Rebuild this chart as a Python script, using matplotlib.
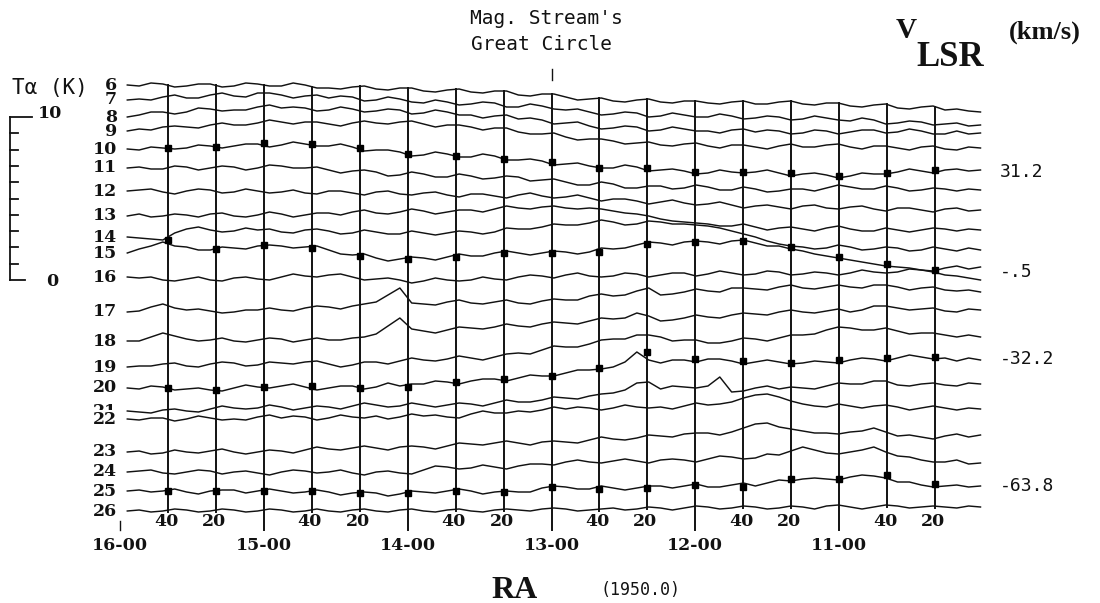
"""HI channel traces across the Magellanic Stream great circle (RA 1950.0).

Each trace is one V_LSR channel (6..26) stacked vertically, plotted against
RA; small squares mark the 31.2, -0.5, -32.2 and -63.8 km/s channels.
"""

import matplotlib

matplotlib.use("Agg")
import matplotlib.pyplot as plt
import numpy as np

W, H = 1100, 603

# traces are sampled evenly in RA, minutes west of 16h00
RA_FIRST_MIN = 3
RA_LAST_MIN = 359

CHANNELS = list(range(6, 27))

# stacked trace levels (chart units, 16.3 units per K, increasing downwards)
CH06 = [85,
        86, 83, 84, 87, 86, 84, 84, 87, 86, 83,
        84, 86, 86, 83, 85, 88, 88, 89, 87, 86,
        89, 90, 88, 88, 91, 92, 90, 89, 92, 93,
        91, 91, 95, 96, 94, 94, 97, 100, 99, 98,
        101, 102, 100, 99, 102, 103, 101, 101, 103, 104,
        102, 101, 104, 104, 102, 101, 104, 105, 103, 103,
        106, 107, 105, 104, 108, 109, 107, 106, 110, 109,
        111, 112]
CH07 = [100,
        99, 100, 97, 95, 98, 98, 95, 93, 96, 97,
        93, 93, 95, 98, 96, 95, 98, 96, 97, 101,
        100, 97, 99, 102, 103, 100, 102, 105, 104, 102,
        103, 107, 107, 104, 106, 109, 110, 109, 112, 115,
        114, 112, 113, 117, 116, 113, 115, 117, 117, 114,
        116, 119, 118, 116, 117, 120, 119, 116, 118, 120,
        121, 118, 120, 124, 123, 121, 122, 125, 124, 123,
        126, 125]
CH08 = [117,
        115, 112, 112, 114, 112, 108, 109, 111, 110, 110,
        107, 105, 108, 107, 108, 111, 110, 107, 109, 112,
        111, 109, 110, 114, 113, 110, 112, 115, 115, 118,
        116, 115, 119, 118, 120, 124, 123, 122, 126, 129,
        128, 126, 127, 131, 130, 127, 129, 131, 131, 133,
        130, 129, 132, 130, 131, 134, 133, 130, 131, 134,
        132, 130, 130, 133, 132, 129, 131, 134, 134, 131,
        134, 133]
CH09 = [131,
        129, 130, 127, 126, 127, 128, 125, 123, 125, 125,
        123, 120, 122, 124, 122, 122, 124, 126, 123, 121,
        123, 124, 122, 121, 124, 127, 125, 125, 127, 130,
        128, 128, 132, 134, 134, 133, 137, 140, 139, 139,
        141, 144, 143, 142, 145, 146, 144, 143, 146, 148,
        145, 145, 147, 149, 146, 144, 147, 147, 145, 144,
        147, 149, 146, 146, 148, 150, 147, 146, 149, 150,
        147, 148]
CH10 = [149,
        150, 147, 148, 149, 148, 145, 146, 148, 146, 144,
        144, 147, 145, 142, 144, 146, 146, 144, 147, 151,
        150, 150, 152, 156, 155, 152, 154, 157, 157, 154,
        156, 160, 160, 159, 161, 165, 164, 163, 166, 168,
        168, 165, 167, 171, 170, 169, 171, 174, 173, 170,
        172, 173, 172, 170, 173, 176, 174, 173, 175, 178,
        176, 173, 174, 174, 172, 169, 171, 173, 170, 169,
        171, 170]
CH11 = [168,
        167, 169, 169, 166, 167, 170, 168, 166, 167, 170,
        168, 165, 166, 168, 168, 167, 170, 173, 171, 170,
        172, 176, 175, 172, 174, 177, 177, 174, 176, 179,
        178, 176, 177, 181, 180, 179, 182, 185, 185, 182,
        184, 188, 188, 186, 186, 189, 188, 185, 187, 190,
        190, 187, 189, 192, 191, 189, 189, 191, 188, 185,
        187, 189, 189, 186, 188, 191, 190, 188, 189, 191,
        189, 190]
CH12 = [191,
        190, 189, 192, 194, 191, 189, 190, 193, 192, 189,
        191, 193, 192, 190, 193, 194, 191, 191, 193, 195,
        192, 191, 194, 195, 193, 192, 195, 197, 194, 194,
        196, 198, 195, 193, 196, 198, 197, 195, 198, 201,
        199, 199, 201, 204, 202, 200, 203, 205, 204, 202,
        205, 208, 206, 205, 207, 209, 206, 205, 208, 209,
        207, 206, 209, 211, 208, 208, 210, 212, 209, 208,
        211, 210]
CH13 = [216,
        214, 217, 216, 214, 215, 217, 214, 213, 216, 217,
        215, 212, 214, 217, 215, 213, 213, 215, 212, 210,
        213, 214, 212, 209, 211, 214, 212, 210, 210, 212,
        209, 206, 208, 209, 207, 206, 208, 209, 208, 209,
        211, 213, 214, 216, 219, 221, 222, 223, 224, 226,
        226, 224, 227, 230, 228, 227, 229, 231, 228, 226,
        229, 231, 231, 228, 230, 232, 230, 228, 229, 231,
        229, 230]
CH14 = [237,
        238, 239, 240, 233, 229, 227, 230, 232, 231, 228,
        230, 229, 232, 233, 230, 229, 231, 234, 233, 230,
        232, 234, 234, 231, 233, 235, 233, 231, 232, 234,
        232, 228, 229, 229, 227, 224, 225, 225, 223, 220,
        222, 225, 224, 221, 222, 224, 224, 225, 226, 228,
        231, 234, 237, 241, 244, 246, 247, 249, 248, 245,
        247, 250, 249, 247, 248, 251, 250, 247, 249, 251,
        248, 250]
CH15 = [253,
        249, 246, 242, 246, 247, 250, 250, 247, 248, 249,
        246, 245, 246, 248, 247, 246, 250, 254, 255, 254,
        258, 261, 259, 257, 258, 260, 257, 254, 256, 256,
        253, 251, 253, 255, 253, 251, 252, 254, 252, 248,
        249, 248, 245, 242, 243, 245, 242, 241, 242, 244,
        241, 240, 243, 246, 246, 249, 251, 254, 256, 258,
        260, 262, 264, 266, 267, 268, 270, 272, 275, 276,
        278, 280]
CH16 = [277,
        278, 277, 280, 281, 279, 277, 280, 281, 278, 277,
        279, 280, 277, 274, 276, 277, 275, 274, 277, 280,
        279, 278, 280, 283, 281, 278, 280, 281, 280, 277,
        279, 280, 277, 275, 276, 278, 275, 273, 276, 277,
        276, 273, 274, 277, 275, 273, 273, 276, 274, 271,
        273, 275, 274, 271, 272, 275, 274, 272, 273, 275,
        273, 270, 272, 273, 272, 269, 270, 271, 268, 266,
        269, 267]
CH17 = [312,
        311, 307, 304, 308, 310, 309, 311, 313, 312, 310,
        310, 308, 310, 311, 308, 306, 307, 309, 306, 304,
        302, 295, 288, 303, 304, 305, 302, 300, 303, 304,
        302, 300, 303, 304, 301, 299, 300, 300, 296, 294,
        296, 295, 291, 288, 295, 294, 292, 289, 291, 292,
        288, 288, 289, 290, 287, 285, 288, 289, 287, 285,
        287, 288, 285, 285, 287, 290, 288, 287, 290, 291,
        290, 292]
CH18 = [341,
        341, 337, 333, 336, 339, 341, 340, 338, 341, 342,
        340, 338, 339, 342, 340, 338, 340, 340, 338, 337,
        334, 326, 318, 329, 331, 333, 330, 327, 328, 329,
        327, 324, 326, 327, 324, 322, 323, 324, 321, 318,
        319, 318, 313, 316, 321, 320, 318, 315, 317, 318,
        315, 313, 314, 315, 312, 310, 312, 313, 311, 309,
        312, 310, 306, 306, 308, 310, 309, 308, 311, 312,
        309, 310]
CH19 = [367,
        366, 366, 364, 363, 366, 367, 364, 362, 363, 366,
        365, 362, 363, 364, 362, 361, 364, 367, 365, 362,
        362, 364, 361, 358, 360, 361, 359, 356, 358, 360,
        357, 354, 353, 354, 350, 346, 347, 347, 344, 340,
        339, 339, 335, 335, 337, 341, 340, 340, 343, 343,
        341, 338, 339, 341, 338, 335, 335, 334, 330, 327,
        328, 330, 330, 328, 331, 334, 333, 333, 335, 337,
        335, 337]
CH20 = [388,
        389, 386, 387, 390, 389, 388, 390, 391, 388, 385,
        387, 388, 386, 384, 387, 390, 388, 386, 386, 389,
        387, 383, 386, 384, 384, 381, 382, 384, 381, 379,
        379, 381, 378, 375, 376, 376, 373, 370, 370, 369,
        367, 362, 352, 360, 363, 360, 360, 362, 359, 359,
        361, 364, 362, 360, 362, 364, 363, 361, 362, 363,
        360, 358, 359, 361, 358, 355, 357, 359, 358, 361,
        358, 360]
CH21 = [411,
        412, 413, 410, 409, 411, 412, 409, 406, 408, 409,
        408, 405, 407, 410, 408, 406, 407, 409, 406, 403,
        405, 407, 406, 403, 405, 407, 405, 403, 404, 406,
        403, 400, 402, 402, 400, 397, 398, 399, 396, 394,
        393, 390, 383, 382, 389, 386, 387, 388, 386, 377,
        392, 391, 388, 386, 389, 387, 388, 389, 386, 383,
        384, 384, 381, 381, 385, 386, 384, 383, 385, 386,
        383, 384]
CH22 = [419,
        420, 418, 418, 421, 419, 416, 418, 420, 419, 420,
        417, 415, 418, 416, 417, 420, 418, 415, 417, 418,
        416, 419, 417, 414, 416, 415, 417, 418, 414, 411,
        413, 413, 411, 412, 410, 407, 409, 407, 408, 410,
        408, 405, 407, 408, 407, 409, 406, 403, 405, 404,
        402, 398, 395, 394, 397, 401, 404, 406, 407, 404,
        406, 408, 406, 405, 407, 410, 408, 406, 408, 410,
        408, 409]
CH23 = [452,
        451, 454, 453, 450, 452, 453, 451, 449, 452, 454,
        452, 450, 451, 453, 450, 447, 449, 450, 448, 446,
        448, 450, 447, 446, 447, 449, 446, 443, 444, 445,
        443, 441, 443, 445, 442, 441, 442, 443, 440, 437,
        439, 440, 438, 435, 436, 437, 434, 433, 433, 435,
        432, 428, 424, 423, 427, 429, 431, 433, 433, 434,
        432, 431, 428, 432, 436, 435, 437, 439, 436, 434,
        437, 435]
CH24 = [472,
        471, 470, 473, 474, 472, 470, 471, 474, 472, 471,
        473, 475, 472, 470, 471, 473, 472, 470, 473, 475,
        472, 471, 473, 474, 470, 466, 467, 469, 468, 465,
        467, 469, 466, 464, 464, 465, 462, 460, 462, 463,
        461, 459, 461, 463, 460, 459, 460, 462, 459, 456,
        457, 459, 458, 454, 455, 451, 447, 450, 453, 454,
        452, 450, 447, 452, 456, 457, 460, 462, 462, 460,
        464, 463]
CH25 = [491,
        490, 492, 491, 489, 492, 494, 491, 490, 490, 493,
        491, 489, 491, 493, 492, 490, 492, 495, 493, 492,
        493, 496, 494, 491, 492, 493, 491, 489, 491, 494,
        492, 491, 492, 492, 488, 486, 487, 489, 489, 486,
        488, 490, 488, 486, 486, 488, 486, 484, 487, 487,
        485, 483, 486, 483, 480, 481, 479, 478, 479, 480,
        477, 475, 476, 478, 482, 482, 485, 487, 486, 485,
        487, 486]
CH26 = [511,
        510, 512, 511, 509, 510, 512, 511, 509, 510, 512,
        511, 509, 510, 512, 511, 509, 511, 512, 510, 509,
        511, 512, 510, 509, 511, 512, 510, 509, 511, 512,
        510, 509, 510, 511, 509, 508, 509, 511, 510, 509,
        508, 510, 509, 507, 508, 510, 508, 506, 507, 509,
        508, 506, 507, 509, 508, 506, 507, 509, 506, 505,
        507, 509, 507, 505, 506, 508, 507, 506, 507, 508,
        506, 507]

TRACES = [CH06, CH07, CH08, CH09, CH10, CH11, CH12, CH13, CH14, CH15, CH16,
          CH17, CH18, CH19, CH20, CH21, CH22, CH23, CH24, CH25, CH26]

# grid lines every 20 minutes of RA; hour lines get the long tick + label
GRID_MIN = [20, 40, 60, 80, 100, 120, 140, 160, 180, 200, 220, 240, 260, 280,
            300, 320, 340]
HOUR_MIN = [0, 60, 120, 180, 240, 300]
HOUR_LABELS = ["16-00", "15-00", "14-00", "13-00", "12-00", "11-00"]

# velocity marker channels, level at each grid line
VEL_LABELS = ["31.2", "-.5", "-32.2", "-63.8"]
MARK_V1 = [148, 147, 143, 144, 148, 154, 156, 159, 162, 168, 168, 172, 172, 173,
           176, 173, 170]
MARK_V2 = [240, 249, 245, 248, 256, 259, 257, 253, 253, 252, 244, 242, 241, 247,
           257, 264, 270]
MARK_V3 = [388, 390, 387, 386, 388, 387, 382, 379, 376, 368, 352, 359, 361, 363,
           360, 358, 357]
MARK_V4 = [491, 491, 491, 491, 493, 493, 491, 492, 487, 489, 488, 485, 487, 479,
           479, 475, 484]
MARKS = [MARK_V1, MARK_V2, MARK_V3, MARK_V4]

TA_TICKS_K = list(range(0, 11))

# layout (pixels)
RA16_PX = 120.1
PX_PER_HOUR = 143.8
T0_Y = 280
UNITS_PER_K = 16.3

INK = "#121212"
SERIF = ["DejaVu Serif"]
MONO = ["DejaVu Sans Mono"]
TIMES = ["Liberation Serif"]


def ra_hours(minutes):
    return 16.0 - np.asarray(minutes, dtype=float) / 60.0


def trace_ra(ys):
    return ra_hours(np.linspace(RA_FIRST_MIN, RA_LAST_MIN, len(ys)))


def fig_text(fig, px, py, s, **kw):
    fig.text(px / W, 1 - py / H, s, **kw)


def main():
    fig = plt.figure(figsize=(W / 100, H / 100), dpi=100)
    ax = fig.add_axes([0, 0, 1, 1])
    ax.set_xlim(16 + RA16_PX / PX_PER_HOUR, 16 - (W - RA16_PX) / PX_PER_HOUR)
    ax.set_ylim(H, 0)
    ax.axis("off")

    ra_grid = ra_hours(GRID_MIN)
    r6 = trace_ra(CH06)
    r26 = trace_ra(CH26)
    top = np.interp(-ra_grid, -r6, CH06)
    bottom = np.interp(-ra_grid, -r26, CH26)

    # vertical RA grid: from top trace to bottom trace, hours run on to the label
    for m, r, y0, y1 in zip(GRID_MIN, ra_grid, top, bottom):
        y_end = 530 if m % 60 == 0 else y1 + 2
        ax.plot([r, r], [y0, y_end], color=INK, lw=1.4, zorder=2)
    ax.plot([16.0, 16.0], [521, 530], color=INK, lw=1.0)

    for ys in TRACES:
        ax.plot(trace_ra(ys), ys, color=INK, lw=1.05, zorder=3)

    for ys in MARKS:
        ax.plot(ra_grid, ys, ls="none", marker="s", ms=4.5, color="black",
                zorder=4)

    # channel numbers on the left
    for ch, ys in zip(CHANNELS, TRACES):
        ax.text(16.0 + 3 / PX_PER_HOUR, ys[0], str(ch), ha="right",
                va="center", fontsize=12.5, family=SERIF, weight="bold",
                color=INK, zorder=5, bbox=dict(fc="white", ec="none", pad=0.1))

    # RA labels below
    for m, r in zip(GRID_MIN, ra_grid):
        if m % 60 == 0:
            continue
        lab = "40" if m % 60 == 20 else "20"
        ax.text(r + 2 / PX_PER_HOUR, 522, lab, ha="center", va="center",
                fontsize=12.5, family=SERIF, weight="bold", color=INK,
                zorder=5, bbox=dict(fc="white", ec="none", pad=0.5))
    for m, lab in zip(HOUR_MIN, HOUR_LABELS):
        ax.text(ra_hours(m), 546, lab, ha="center", va="center",
                fontsize=12.5, family=SERIF, weight="bold", color=INK)

    # velocity labels on the right
    for lab, ys in zip(VEL_LABELS, MARKS):
        ax.text(16 - (1000 - RA16_PX) / PX_PER_HOUR, ys[-1] + 2, lab,
                ha="left", va="center", fontsize=13, family=MONO, color=INK)

    # T_a scale bar
    xb = 16 + (RA16_PX - 10) / PX_PER_HOUR
    tick = 1 / PX_PER_HOUR
    yb = [T0_Y - k * UNITS_PER_K for k in TA_TICKS_K]
    ax.plot([xb, xb], [yb[0], yb[-1]], color=INK, lw=1.3)
    for k, y in zip(TA_TICKS_K, yb):
        ln = 22 if k == TA_TICKS_K[-1] else (15 if k == 0 else 8)
        ax.plot([xb, xb - ln * tick], [y, y], color=INK, lw=1.3)
    fig_text(fig, 50, 88, "Tα (K)", ha="center", va="center", fontsize=15,
             family=MONO, color=INK)
    fig_text(fig, 50, 113, "10", ha="center", va="center", fontsize=12.5,
             family=SERIF, weight="bold", color=INK)
    fig_text(fig, 52, 281, "0", ha="center", va="center", fontsize=12.5,
             family=SERIF, weight="bold", color=INK)

    # great circle marker
    r13 = ra_hours(180)
    ax.plot([r13, r13], [69, 80], color=INK, lw=1.0)
    fig_text(fig, 470, 18, "Mag. Stream's", ha="left", va="center",
             fontsize=14, family=MONO, color=INK)
    fig_text(fig, 471, 44, "Great Circle", ha="left", va="center",
             fontsize=14, family=MONO, color=INK)

    fig_text(fig, 906, 30, "V", ha="center", va="center", fontsize=21,
             family=TIMES, weight="bold", color=INK)
    fig_text(fig, 950, 57, "LSR", ha="center", va="center", fontsize=25,
             family=TIMES, weight="bold", color=INK)
    fig_text(fig, 1045, 32, "(km/s)", ha="center", va="center", fontsize=19,
             family=TIMES, weight="bold", color=INK)

    fig_text(fig, 515, 590, "RA", ha="center", va="center", fontsize=23,
             family=TIMES, weight="bold", color=INK)
    fig_text(fig, 640, 590, "(1950.0)", ha="center", va="center", fontsize=12,
             family=MONO, color=INK)

    fig.savefig("out.png", dpi=100, facecolor="white")
    plt.close(fig)


if __name__ == "__main__":
    main()
